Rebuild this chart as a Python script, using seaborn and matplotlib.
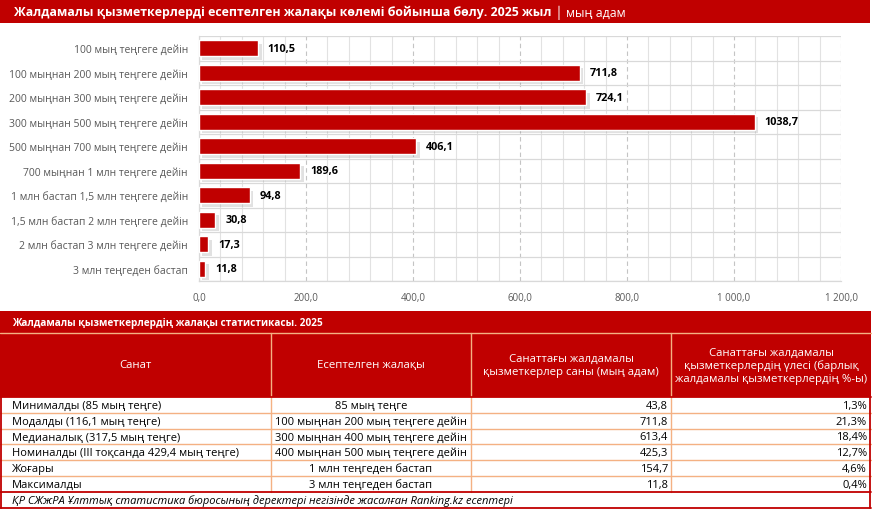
import matplotlib
matplotlib.use("Agg")
import matplotlib.pyplot as plt
import matplotlib.patheffects as pe
from matplotlib.patches import Rectangle
from matplotlib.ticker import MultipleLocator, FixedLocator, FuncFormatter
import seaborn as sns
import pandas as pd

# ---------------- data ----------------
categories = [
    "100 мың теңгеге дейін",
    "100 мыңнан 200 мың теңгеге дейін",
    "200 мыңнан 300 мың теңгеге дейін",
    "300 мыңнан 500 мың теңгеге дейін",
    "500 мыңнан 700 мың теңгеге дейін",
    "700 мыңнан 1 млн теңгеге дейін",
    "1 млн бастап 1,5 млн теңгеге дейін",
    "1,5 млн бастап 2 млн теңгеге дейін",
    "2 млн бастап 3 млн теңгеге дейін",
    "3 млн теңгеден бастап",
]
values = [110.5, 711.8, 724.1, 1038.7, 406.1, 189.6, 94.8, 30.8, 17.3, 11.8]
x_ticks = [0, 200, 400, 600, 800, 1000, 1200]

title_bold = "Жалдамалы қызметкерлерді есептелген жалақы көлемі бойынша бөлу. 2025 жыл"
title_unit = " │ мың адам"

table_title = "Жалдамалы қызметкерлердің жалақы статистикасы. 2025"
table_headers = [
    "Санат",
    "Есептелген жалақы",
    "Санаттағы жалдамалы\nқызметкерлер саны (мың адам)",
    "Санаттағы жалдамалы\nқызметкерлердің үлесі (барлық\nжалдамалы қызметкерлердің %-ы)",
]
table_category = [
    "Минималды (85 мың теңге)",
    "Модалды (116,1 мың теңге)",
    "Медианалық (317,5 мың теңге)",
    "Номиналды (III тоқсанда 429,4 мың теңге)",
    "Жоғары",
    "Максималды",
]
table_wage = [
    "85 мың теңге",
    "100 мыңнан 200 мың теңгеге дейін",
    "300 мыңнан 400 мың теңгеге дейін",
    "400 мыңнан 500 мың теңгеге дейін",
    "1 млн теңгеден бастап",
    "3 млн теңгеден бастап",
]
table_count = [43.8, 711.8, 613.4, 425.3, 154.7, 11.8]
table_share = [1.3, 21.3, 18.4, 12.7, 4.6, 0.4]
source = "ҚР СЖжРА Ұлттық статистика бюросының деректері негізінде жасалған Ranking.kz есептері"

# ---------------- style ----------------
RED = "#C00000"
PEACH = "#F4B183"
GRAY_TXT = "#595959"

sns.set_theme(style="white")
plt.rcParams["font.family"] = ["Open Sans", "DejaVu Sans"]


def fmt_num(v, dec=1, sep=" "):
    s = f"{v:,.{dec}f}"
    return s.replace(",", sep).replace(".", ",")


W, H = 872, 510
fig = plt.figure(figsize=(W / 100, H / 100), dpi=100)
fig.patch.set_facecolor("white")

# background / layout axes in pixel coordinates
bg = fig.add_axes([0, 0, 1, 1], zorder=0)
bg.set_xlim(0, W)
bg.set_ylim(H, 0)
bg.axis("off")

# top title band
bg.add_patch(Rectangle((0, 0), 870, 24, color=RED, lw=0))
t1 = bg.text(14, 12.5, title_bold, color="white", fontsize=8.9, fontweight="bold",
             va="center", ha="left")
fig.canvas.draw()
r = fig.canvas.get_renderer()
bb = t1.get_window_extent(r)
x_end = bg.transData.inverted().transform((bb.x1, bb.y0))[0]
bg.text(x_end, 12.5, title_unit, color="white", fontsize=8.9, va="center", ha="left")

# ---------------- bar chart ----------------
left, right, top, bottom = 199, 841, 37, 282
ax = fig.add_axes([left / W, 1 - bottom / H, (right - left) / W, (bottom - top) / H], zorder=2)
ax.set_facecolor("none")

df = pd.DataFrame({"cat": categories, "val": values})
sns.barplot(data=df, y="cat", x="val", orient="h", color=RED, saturation=1,
            width=0.66, ax=ax, zorder=3)

ax.set_xlim(0, 1200)
ax.set_ylim(len(categories) - 0.5, -0.5)
ax.set_xlabel("")
ax.set_ylabel("")

ax.xaxis.set_major_locator(FixedLocator(x_ticks))
ax.xaxis.set_minor_locator(MultipleLocator(40))
ax.xaxis.set_major_formatter(FuncFormatter(lambda v, p: fmt_num(v)))
ax.set_axisbelow(True)
ax.xaxis.grid(True, which="minor", color="#E2E2E2", lw=0.8, ls="-")
ax.xaxis.grid(True, which="major", color="#C4C4C4", lw=0.8, ls=(0, (4, 3)))
ax.yaxis.grid(False)
for i in range(len(categories) + 1):
    ax.axhline(i - 0.5, color="#D9D9D9", lw=0.9, zorder=1)

for s in ["top", "right"]:
    ax.spines[s].set_visible(False)
for s in ["left", "bottom"]:
    ax.spines[s].set_color("#D9D9D9")
    ax.spines[s].set_linewidth(0.9)

ax.tick_params(axis="x", which="both", length=0, pad=8, labelsize=7, labelcolor=GRAY_TXT)
ax.tick_params(axis="y", length=0, pad=8, labelsize=7.5, labelcolor=GRAY_TXT)

for bar in ax.patches:
    bar.set_path_effects([pe.SimplePatchShadow(offset=(2.5, -2.5), shadow_rgbFace="#8a8a8a", alpha=0.25),
                          pe.Normal()])

ax.bar_label(ax.containers[0], labels=[fmt_num(v, sep="") for v in values], padding=7,
             fontsize=7.8, fontweight="bold", color="black")

# ---------------- table ----------------
bg.add_patch(Rectangle((0, 312), 871, 21.5, color=RED, lw=0))
bg.text(12, 323, table_title, color="white", fontsize=7.2, fontweight="bold", va="center", ha="left")
bg.add_patch(Rectangle((0, 334), 871, 64, color=RED, lw=0))
bg.plot([0, 871], [333.7, 333.7], color=PEACH, lw=1)

col_edges = [0, 271, 471, 671, 871]
header_y = 366
for i, h in enumerate(table_headers):
    cx = (col_edges[i] + col_edges[i + 1]) / 2
    bg.text(cx, header_y, h, color="white", fontsize=8.2, va="center", ha="center",
            linespacing=1.2)

row_top = 398
row_h = 15.8
n = len(table_category)
row_lines = [row_top + k * row_h for k in range(n + 1)]
for y in row_lines[1:-1]:
    bg.plot([0, 871], [y, y], color=PEACH, lw=1)
for x in col_edges[1:-1]:
    bg.plot([x, x], [334, row_lines[-1]], color=PEACH, lw=1)

BODY_FS = 8.0
for k in range(n):
    cy = row_top + (k + 0.5) * row_h + 0.5
    bg.text(12, cy, table_category[k], fontsize=BODY_FS, va="center", ha="left", color="black")
    bg.text(371, cy, table_wage[k], fontsize=BODY_FS, va="center", ha="center", color="black")
    bg.text(668, cy, fmt_num(table_count[k]), fontsize=BODY_FS, va="center", ha="right", color="black")
    bg.text(867, cy, fmt_num(table_share[k]) + "%", fontsize=BODY_FS, va="center", ha="right", color="black")

# red borders
yb = row_lines[-1]
bg.plot([0.8, 0.8], [398, 509], color=RED, lw=1.3)
bg.plot([870.3, 870.3], [398, 509], color=RED, lw=1.3)
bg.plot([0, 871], [398, 398], color=RED, lw=1.3)
bg.plot([0, 871], [yb, yb], color=RED, lw=1.3)
bg.plot([0, 871], [508.8, 508.8], color=RED, lw=1.3)
bg.text(12, (yb + 509) / 2, source, fontsize=8.0, style="italic", va="center", ha="left", color="black")

fig.savefig("out.png", dpi=100, facecolor="white")
